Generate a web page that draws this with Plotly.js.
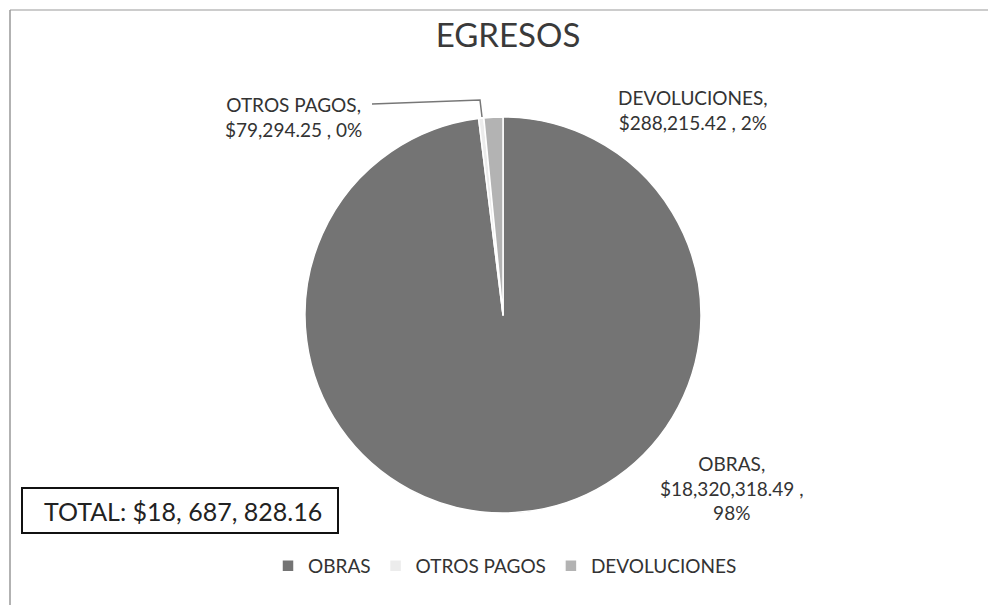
<!DOCTYPE html>
<html>
<head>
<meta charset="utf-8">
<script src="https://cdn.plot.ly/plotly-3.0.1.min.js"></script>
<style>html,body{margin:0;padding:0;background:#fff;}#chart{width:988px;height:605px;}</style>
</head>
<body>
<div id="chart"></div>
<script>
// ---- data ----
const categories = ["OBRAS", "OTROS PAGOS", "DEVOLUCIONES"];
const amounts = [18320318.49, 79294.25, 288215.42];
const chartTitle = "EGRESOS";
const totalLabel = "TOTAL: $18, 687, 828.16";

// ---- styling / layout ----
const W = 988, H = 605;
const px = x => x / W;
const py = y => 1 - y / H;
const sliceColors = ["#747474", "#ececec", "#b3b3b3"];
const textColor = "#333333";
const FONT = "Lato, 'Open Sans', sans-serif";

const total = amounts.reduce((a, b) => a + b, 0);
const fmt = v => "$" + v.toLocaleString("en-US", {minimumFractionDigits: 2, maximumFractionDigits: 2});
const pct = v => Math.round(v / total * 100) + "%";

// label placement per category (positions only)
const labelPos = [
  {x: 732, y: 488, threeLines: true},
  {x: 293, y: 117, threeLines: false},
  {x: 693, y: 110, threeLines: false}
];

const annotations = categories.map((c, i) => {
  const p = labelPos[i];
  const text = p.threeLines
    ? c + ",<br>" + fmt(amounts[i]) + " ,<br>" + pct(amounts[i])
    : c + ",<br>" + fmt(amounts[i]) + " , " + pct(amounts[i]);
  return {
    xref: "paper", yref: "paper", x: px(p.x), y: py(p.y),
    xanchor: "center", yanchor: "middle", align: "center",
    showarrow: false, text: text,
    font: {family: FONT, size: 19, color: textColor}
  };
});
annotations.push({
  xref: "paper", yref: "paper", x: px(42), y: py(511),
  xanchor: "left", yanchor: "middle", showarrow: false,
  text: totalLabel, font: {family: FONT, size: 25, color: "#222"}
});

const cx = 503, cy = 315, r = 198;
const trace = {
  type: "pie",
  labels: categories,
  values: amounts,
  sort: false,
  direction: "clockwise",
  rotation: 0,
  textinfo: "none",
  hoverinfo: "label+value+percent",
  marker: {colors: sliceColors, line: {color: "#ffffff", width: 1.5}},
  domain: {x: [px(cx - r), px(cx + r)], y: [py(cy + r), py(cy - r)]}
};

const layout = {
  width: W, height: H,
  margin: {l: 0, r: 0, t: 0, b: 0},
  paper_bgcolor: "#ffffff",
  title: {text: chartTitle, x: px(508), xanchor: "center", y: py(35), yanchor: "middle",
          font: {family: FONT, size: 33, color: "#3a3a3a"}},
  showlegend: true,
  legend: {orientation: "h", x: px(505), xanchor: "center", y: py(566), yanchor: "middle",
           font: {family: FONT, size: 19, color: textColor}, itemwidth: 30, traceorder: "normal"},
  annotations: annotations,
  shapes: [
    {type: "rect", xref: "paper", yref: "paper", x0: px(22), x1: px(338), y0: py(533), y1: py(488),
     line: {color: "#111", width: 2}},
    {type: "path", xref: "paper", yref: "paper",
     path: "M " + px(372) + " " + py(104) + " L " + px(480) + " " + py(100) + " L " + px(482) + " " + py(117),
     line: {color: "#777", width: 1.5}},
    {type: "line", xref: "paper", yref: "paper", x0: px(10), y0: py(10), x1: px(988), y1: py(10),
     line: {color: "#999", width: 1}},
    {type: "line", xref: "paper", yref: "paper", x0: px(10), y0: py(10), x1: px(10), y1: py(605),
     line: {color: "#999", width: 1.5}}
  ]
};

Plotly.newPlot("chart", [trace], layout, {displayModeBar: false, staticPlot: true});
</script>
</body>
</html>
